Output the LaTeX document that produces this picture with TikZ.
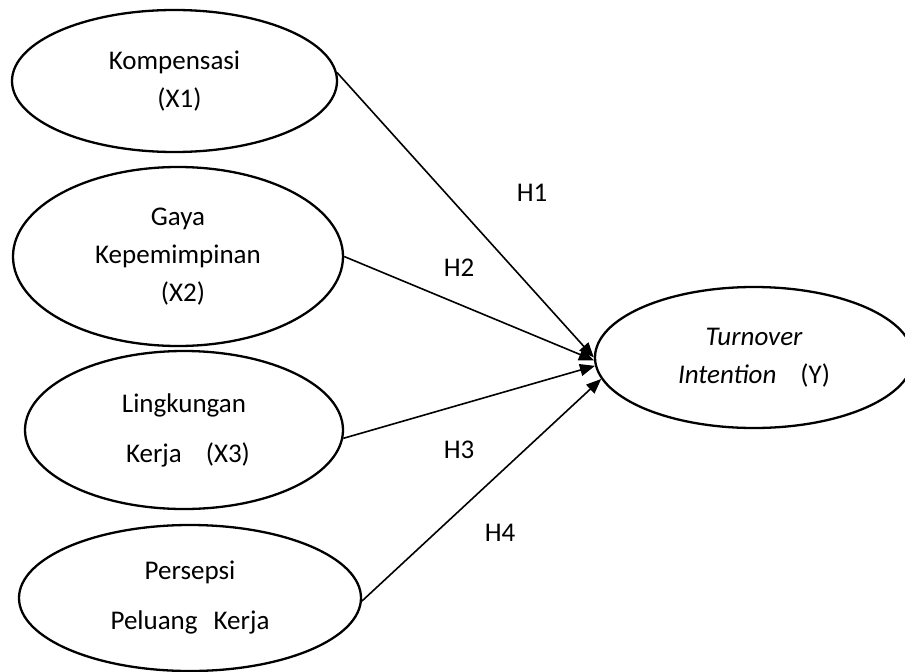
\documentclass[tikz,border=0pt]{standalone}
\usepackage{fontspec}
\setmainfont{Carlito}
\usepackage{tikz}
\usetikzlibrary{shapes.geometric,arrows.meta}
\tikzset{
  oval/.style={ellipse,draw,line width=2.3pt,inner sep=0pt,align=center,
    font=\fontsize{27}{38}\selectfont},
  arr/.style={-{Triangle[length=15pt,width=12pt]},line width=1.6pt},
  hyp/.style={font=\fontsize{27}{32}\selectfont}
}
\begin{document}
\begin{tikzpicture}[x=1pt,y=-1pt]
    \useasboundingbox (0,0) rectangle (905,672);
    \node[oval,minimum width=325pt,minimum height=142pt] (komp) at (174.5,81) {Kompensasi\\\hspace*{10pt}(X1)};
    \node[oval,minimum width=330pt,minimum height=179pt] (gaya) at (178,256.5) {Gaya\\Kepemimpinan\\\hspace*{10pt}(X2)};
    \node[oval,minimum width=318pt,minimum height=158pt] (ling) at (184,430) {Lingkungan\\[12pt]\hspace*{8pt}Kerja\hspace{24pt}(X3)};
    \node[oval,minimum width=342pt,minimum height=146pt] (pers) at (190,598) {Persepsi\\[12pt]Peluang\hspace{16pt}Kerja};
    \node[oval,minimum width=318pt,minimum height=141pt] (turn) at (754,357.5) {\itshape Turnover\\\itshape Intention\hspace{24pt}\upshape(Y)};

    \draw[arr] (komp.3) -- (turn.180);
    \draw[arr] (gaya.0) -- (turn.181);
    \draw[arr] (ling.357) -- (turn.183);
    \draw[arr] (pers.359) -- (turn.188);

    \node[hyp] (h1) at (532,193) {H1};
    \node[hyp] (h2) at (459,268) {H2};
    \node[hyp] (h3) at (459,450) {H3};
    \node[hyp] (h4) at (500,533) {H4};
  \end{tikzpicture}
\end{document}
